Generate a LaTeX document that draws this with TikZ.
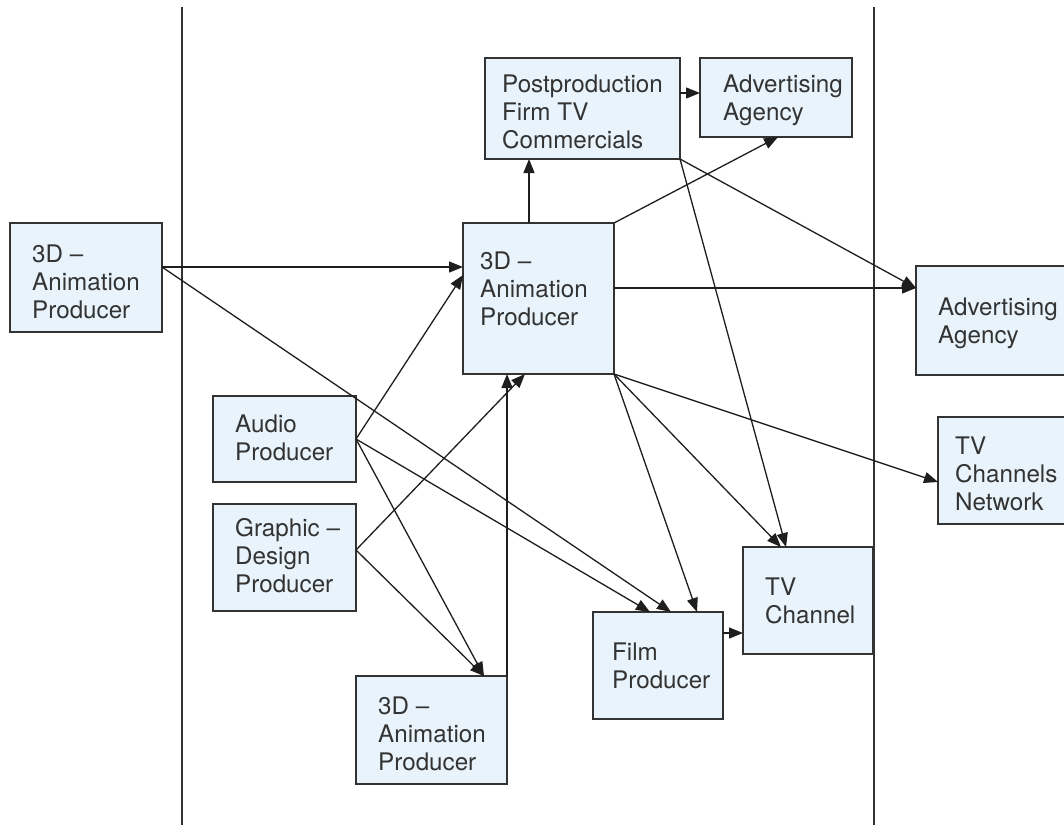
\documentclass[tikz,border=0pt]{standalone}
\usepackage{fontspec}
\setmainfont{TeX Gyre Heros}
\usetikzlibrary{arrows.meta}
\definecolor{boxfill}{HTML}{E8F3FB}
\definecolor{boxline}{HTML}{333333}
\definecolor{linecol}{HTML}{1E1E1E}
\definecolor{textcol}{HTML}{333333}
\begin{document}
\begin{tikzpicture}[x=1pt,y=-1pt,
  box/.style={draw=boxline, fill=boxfill, line width=1.6pt, anchor=north west, inner sep=0pt, outer sep=0pt},
  txt/.style={anchor=north west, inner sep=0pt, align=left, font=\fontsize{24.2}{28}\selectfont, text=textcol},
  arr/.style={draw=linecol, line width=1.3pt, -{Triangle[length=14pt,width=11pt]}},
  sepline/.style={draw=boxline, line width=1.6pt}]
\useasboundingbox (0,0) rectangle (1064,825);
\clip (0,0) rectangle (1064,825);
\fill[white] (0,0) rectangle (1064,825);
% separators
\coordinate (s1t) at (182,7); \coordinate (s1b) at (182,825);
\coordinate (s2t) at (874,7); \coordinate (s2b) at (874,825);
\draw[sepline] (s1t) -- (s1b);
\draw[sepline] (s2t) -- (s2b);
% boxes
\node[box, minimum width=152pt, minimum height=109pt] (l3) at (10,223) {};
\node[box, minimum width=195pt, minimum height=101pt] (pp) at (485,58) {};
\node[box, minimum width=152pt, minimum height=79pt] (ta) at (700,58) {};
\node[box, minimum width=151pt, minimum height=151pt] (c3) at (463,223) {};
\node[box, minimum width=170pt, minimum height=109pt] (ra) at (916,266) {};
\node[box, minimum width=150pt, minimum height=107pt] (tn) at (938,417) {};
\node[box, minimum width=143pt, minimum height=86pt] (au) at (213,396) {};
\node[box, minimum width=143pt, minimum height=107pt] (gd) at (213,504) {};
\node[box, minimum width=151pt, minimum height=108pt] (b3) at (356,676) {};
\node[box, minimum width=130pt, minimum height=107pt] (fp) at (593,612) {};
\node[box, minimum width=130pt, minimum height=107pt] (tv) at (743,547) {};
% texts
\node[txt] (l3t) at (32,245) {3D –\\Animation\\Producer};
\node[txt] (ppt) at (502,75) {Postproduction\\Firm TV\\Commercials};
\node[txt] (tat) at (723,75) {Advertising\\Agency};
\node[txt] (c3t) at (480,252) {3D –\\Animation\\Producer};
\node[txt] (rat) at (938,298) {Advertising\\Agency};
\node[txt] (tnt) at (955,437) {TV\\Channels\\Network};
\node[txt] (aut) at (235,415) {Audio\\Producer};
\node[txt] (gdt) at (235,518) {Graphic –\\Design\\Producer};
\node[txt] (b3t) at (378,697) {3D –\\Animation\\Producer};
\node[txt] (fpt) at (612,643) {Film\\Producer};
\node[txt] (tvt) at (765,578) {TV\\Channel};
% connectors
\draw[arr] ([yshift=-44pt]l3.north east) coordinate (l3o) -- (l3o -| c3.west);
\draw[arr] (l3o) -- ([xshift=78pt]fp.north west);
\draw[arr] (au.east) -- ([yshift=-52pt]c3.north west);
\draw[arr] (au.east) -- ([xshift=57pt]fp.north west);
\draw[arr] (au.east) -- ([xshift=128pt]b3.north west);
\draw[arr] ([yshift=-46pt]gd.north east) coordinate (gdo) -- ([xshift=62pt]c3.south west);
\draw[arr] (gdo) -- ([xshift=128pt]b3.north west);
\draw[arr] (b3.north east) -- (b3.north east |- c3.south);
\draw[arr] ([xshift=66pt]c3.north west) coordinate (c3top) -- (c3top |- pp.south);
\draw[arr] ([yshift=-35pt]pp.north east) coordinate (ppo) -- (ppo -| ta.west);
\draw[arr] (c3.north east) -- ([xshift=78pt]ta.south west);
\draw[arr] (pp.south east) -- ([yshift=-22pt]ra.north west);
\draw[arr] (pp.south east) -- ([xshift=43pt]tv.north west);
\draw[arr] ([yshift=-65pt]c3.north east) coordinate (c3r) -- (c3r -| ra.west);
\draw[arr] (c3.south east) -- ([xshift=104pt]fp.north west);
\draw[arr] (c3.south east) -- ([xshift=38pt]tv.north west);
\draw[arr] (c3.south east) -- ([yshift=-65pt]tn.north west);
\draw[arr] ([yshift=-21pt]fp.north east) coordinate (fpo) -- (fpo -| tv.west);
\end{tikzpicture}
\end{document}
